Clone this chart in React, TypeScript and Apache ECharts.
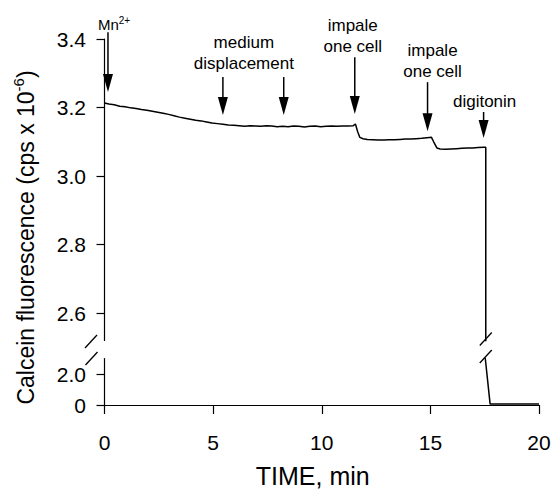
import React, { useEffect, useRef } from "react";
import * as echarts from "echarts";

// ---- data ----
const traceTimes = [
  0, 0.2, 0.45, 0.7, 0.95, 1.2, 1.45, 1.7, 1.95, 2.2, 2.45, 2.7, 2.95, 3.2, 3.45, 3.7, 3.95,
  4.2, 4.45, 4.7, 4.95, 5.2, 5.45, 5.7, 5.95, 6.2, 6.45, 6.7, 6.95, 7.2, 7.45, 7.7, 7.95,
  8.2, 8.45, 8.7, 8.95, 9.2, 9.45, 9.7, 9.95, 10.2, 10.45, 10.7, 10.95, 11.2, 11.45, 11.55,
  11.65, 11.75, 11.9, 12.1, 12.35, 12.6, 12.85, 13.1, 13.35, 13.6, 13.85, 14.1, 14.35, 14.6,
  14.85, 15.05, 15.15, 15.3, 15.45, 15.7, 15.95, 16.2, 16.45, 16.7, 16.95, 17.2, 17.45,
  17.55, 17.55,
];
const traceValues = [
  3.213, 3.21, 3.208, 3.204, 3.202, 3.199, 3.197, 3.194, 3.192, 3.189, 3.186, 3.183, 3.18,
  3.176, 3.172, 3.169, 3.166, 3.163, 3.161, 3.158, 3.155, 3.153, 3.151, 3.149, 3.148, 3.147,
  3.145, 3.147, 3.146, 3.145, 3.147, 3.146, 3.144, 3.145, 3.144, 3.146, 3.145, 3.143, 3.145,
  3.146, 3.144, 3.145, 3.146, 3.145, 3.146, 3.146, 3.147, 3.152, 3.13, 3.113, 3.109, 3.107,
  3.106, 3.105, 3.105, 3.106, 3.106, 3.107, 3.108, 3.108, 3.109, 3.11, 3.112, 3.113, 3.1,
  3.082, 3.079, 3.078, 3.079, 3.08, 3.081, 3.082, 3.082, 3.083, 3.084, 3.084, 2.4,
];
const tailTimes = [17.52, 17.75, 20];
const tailValues = [3.1, 0.06, 0.06];

const upperTicks = [2.6, 2.8, 3.0, 3.2, 3.4];
const lowerTicks = [0, 2.0];
const upperRange = [2.52, 3.4];
const lowerRange = [0, 3.0];
const xRange = [0, 20];
const xInterval = 5;
const breakTime = 17.55;

const eventLabels = ["Mn", "medium\ndisplacement", "impale\none cell", "impale\none cell", "digitonin"];
const eventTimes = [[0.16], [5.45, 8.25], [11.52], [14.87], [17.45]];
const arrowTipValues = [[3.245], [3.178, 3.178], [3.181], [3.131], [3.111]];
const arrowTopValues = [[3.42], [3.289, 3.289], [3.347], [3.274], [3.187]];

// ---- styles / layout ----
const FONT = "'Liberation Sans', Arial, Helvetica, sans-serif";
const GRID_LEFT = 104.5;
const GRID_RIGHT = 15;
const Y_OFFSET = 13.5;
const labelDx = [-10, -9.5, -2, 5, 1];
const labelGap = [0, 3.5, 0, 0, 0];

export default function App() {
  const ref = useRef<HTMLDivElement>(null);

  useEffect(() => {
    if (!ref.current) return;
    const chart = echarts.init(ref.current, null, { renderer: "svg" });

    const upperData = traceTimes.map((t, i) => [t, traceValues[i]]);
    const lowerData = tailTimes.map((t, i) => [t, tailValues[i]]);

    const yAxisCommon = {
      type: "value" as const,
      offset: Y_OFFSET,
      splitLine: { show: false },
      axisLine: { show: true, lineStyle: { color: "#000", width: 1.2 } },
      axisTick: { show: true, length: 8, lineStyle: { color: "#000", width: 1.2 } },
      axisLabel: {
        color: "#000",
        fontSize: 21,
        fontFamily: FONT,
        margin: 5,
      },
    };

    const option: any = {
      animation: false,
      backgroundColor: "#fff",
      grid: [
        { left: GRID_LEFT, right: GRID_RIGHT, top: 39, height: 301.5 },
        { left: GRID_LEFT, right: GRID_RIGHT, top: 358.5, height: 46.5 },
      ],
      xAxis: [
        { type: "value", gridIndex: 0, min: xRange[0], max: xRange[1], show: false },
        {
          type: "value",
          gridIndex: 1,
          min: xRange[0],
          max: xRange[1],
          interval: xInterval,
          offset: 18,
          splitLine: { show: false },
          axisLine: { show: true, lineStyle: { color: "#000", width: 1.2 } },
          axisTick: { show: true, length: 9, lineStyle: { color: "#000", width: 1.2 } },
          axisLabel: { color: "#000", fontSize: 21, fontFamily: FONT, margin: 9 },
          name: "TIME, min",
          nameLocation: "middle",
          nameGap: 40,
          nameTextStyle: {
            color: "#000",
            fontSize: 25,
            fontFamily: FONT,
            padding: [0, 18, 0, 0],
          },
        },
      ],
      yAxis: [
        {
          ...yAxisCommon,
          gridIndex: 0,
          min: upperRange[0],
          max: upperRange[1],
          axisTick: { ...yAxisCommon.axisTick, customValues: upperTicks },
          axisLabel: {
            ...yAxisCommon.axisLabel,
            customValues: upperTicks,
            formatter: (v: number) => v.toFixed(1),
          },
        },
        {
          ...yAxisCommon,
          gridIndex: 1,
          min: lowerRange[0],
          max: lowerRange[1],
          axisTick: { ...yAxisCommon.axisTick, customValues: lowerTicks },
          axisLabel: {
            ...yAxisCommon.axisLabel,
            customValues: lowerTicks,
            formatter: (v: number) => (v === 0 ? "0" : v.toFixed(1)),
          },
        },
      ],
      series: [
        {
          type: "line",
          xAxisIndex: 0,
          yAxisIndex: 0,
          data: upperData,
          showSymbol: false,
          symbol: "none",
          clip: true,
          lineStyle: { color: "#000", width: 1.5 },
        },
        {
          type: "line",
          xAxisIndex: 1,
          yAxisIndex: 1,
          data: lowerData,
          showSymbol: false,
          symbol: "none",
          clip: true,
          lineStyle: { color: "#000", width: 1.5 },
        },
      ],
    };
    chart.setOption(option);

    const px = (g: number, t: number, v: number) =>
      chart.convertToPixel({ gridIndex: g } as any, [t, v]) as number[];

    const graphics: any[] = [];
    const lineStyle = { stroke: "#000", lineWidth: 1.5 };

    // arrows and labels
    eventTimes.forEach((times, i) => {
      const xs: number[] = [];
      let topMin = Infinity;
      times.forEach((t, j) => {
        const tip = px(0, t, arrowTipValues[i][j]);
        const top = px(0, t, arrowTopValues[i][j]);
        const x = tip[0];
        xs.push(x);
        topMin = Math.min(topMin, top[1]);
        const headH = 18;
        const headW = 10;
        graphics.push({
          type: "line",
          shape: { x1: x, y1: top[1], x2: x, y2: tip[1] - headH + 1 },
          style: lineStyle,
        });
        graphics.push({
          type: "polygon",
          shape: {
            points: [
              [x - headW / 2, tip[1] - headH],
              [x + headW / 2, tip[1] - headH],
              [x, tip[1]],
            ],
          },
          style: { fill: "#000" },
        });
      });
      const cx = xs.reduce((a, b) => a + b, 0) / xs.length;
      if (i === 0) {
        graphics.push({
          type: "text",
          x: cx + labelDx[i],
          y: topMin - labelGap[i],
          style: {
            text: "{n|" + eventLabels[i] + "}{s|2+}",
            align: "left",
            verticalAlign: "bottom",
            fill: "#000",
            font: `15px ${FONT}`,
            rich: {
              n: { fontSize: 15, lineHeight: 17, fontFamily: FONT, fill: "#000", verticalAlign: "bottom" },
              s: { fontSize: 10, lineHeight: 10, fontFamily: FONT, fill: "#000", verticalAlign: "top" },
            },
          },
        });
      } else {
        graphics.push({
          type: "text",
          x: cx + labelDx[i],
          y: topMin - labelGap[i],
          style: {
            text: eventLabels[i],
            align: "center",
            verticalAlign: "bottom",
            fill: "#000",
            fontSize: 17,
            fontFamily: FONT,
            lineHeight: 21,
          },
        });
      }
    });

    // axis break marks
    const gLeft = px(0, xRange[0], upperRange[0])[0];
    const axisX = gLeft - Y_OFFSET;
    const upperBottom = px(0, xRange[0], upperRange[0])[1];
    const lowerTop = px(1, xRange[0], lowerRange[1])[1];
    const dataX = px(0, breakTime, upperRange[0])[0];
    const slash = (cx: number, cy: number) => ({
      type: "line",
      shape: { x1: cx - 6, y1: cy + 6.5, x2: cx + 6, y2: cy - 6.5 },
      style: { stroke: "#000", lineWidth: 1.3 },
    });
    graphics.push(slash(axisX, upperBottom + 1));
    graphics.push(slash(axisX + 0.5, lowerTop));
    graphics.push(slash(dataX, upperBottom - 1.5));
    graphics.push(slash(dataX, lowerTop - 2));

    // y axis title
    graphics.push({
      type: "text",
      x: 24,
      y: (upperBottom + lowerTop) / 2 - 112,
      rotation: Math.PI / 2,
      style: {
        text: "{a|Calcein fluorescence (cps x 10}{s|-6}{a|)}",
        align: "center",
        verticalAlign: "middle",
        fill: "#000",
        font: `23px ${FONT}`,
        rich: {
          a: { fontSize: 23, lineHeight: 26, fontFamily: FONT, fill: "#000", verticalAlign: "bottom" },
          s: { fontSize: 15, lineHeight: 15, fontFamily: FONT, fill: "#000", verticalAlign: "top" },
        },
      },
    });

    chart.setOption({ graphic: graphics });

    return () => chart.dispose();
  }, []);

  return (
    <div
      ref={ref}
      style={{ position: "fixed", left: 0, top: 0, width: 554, height: 492, background: "#fff" }}
    />
  );
}
